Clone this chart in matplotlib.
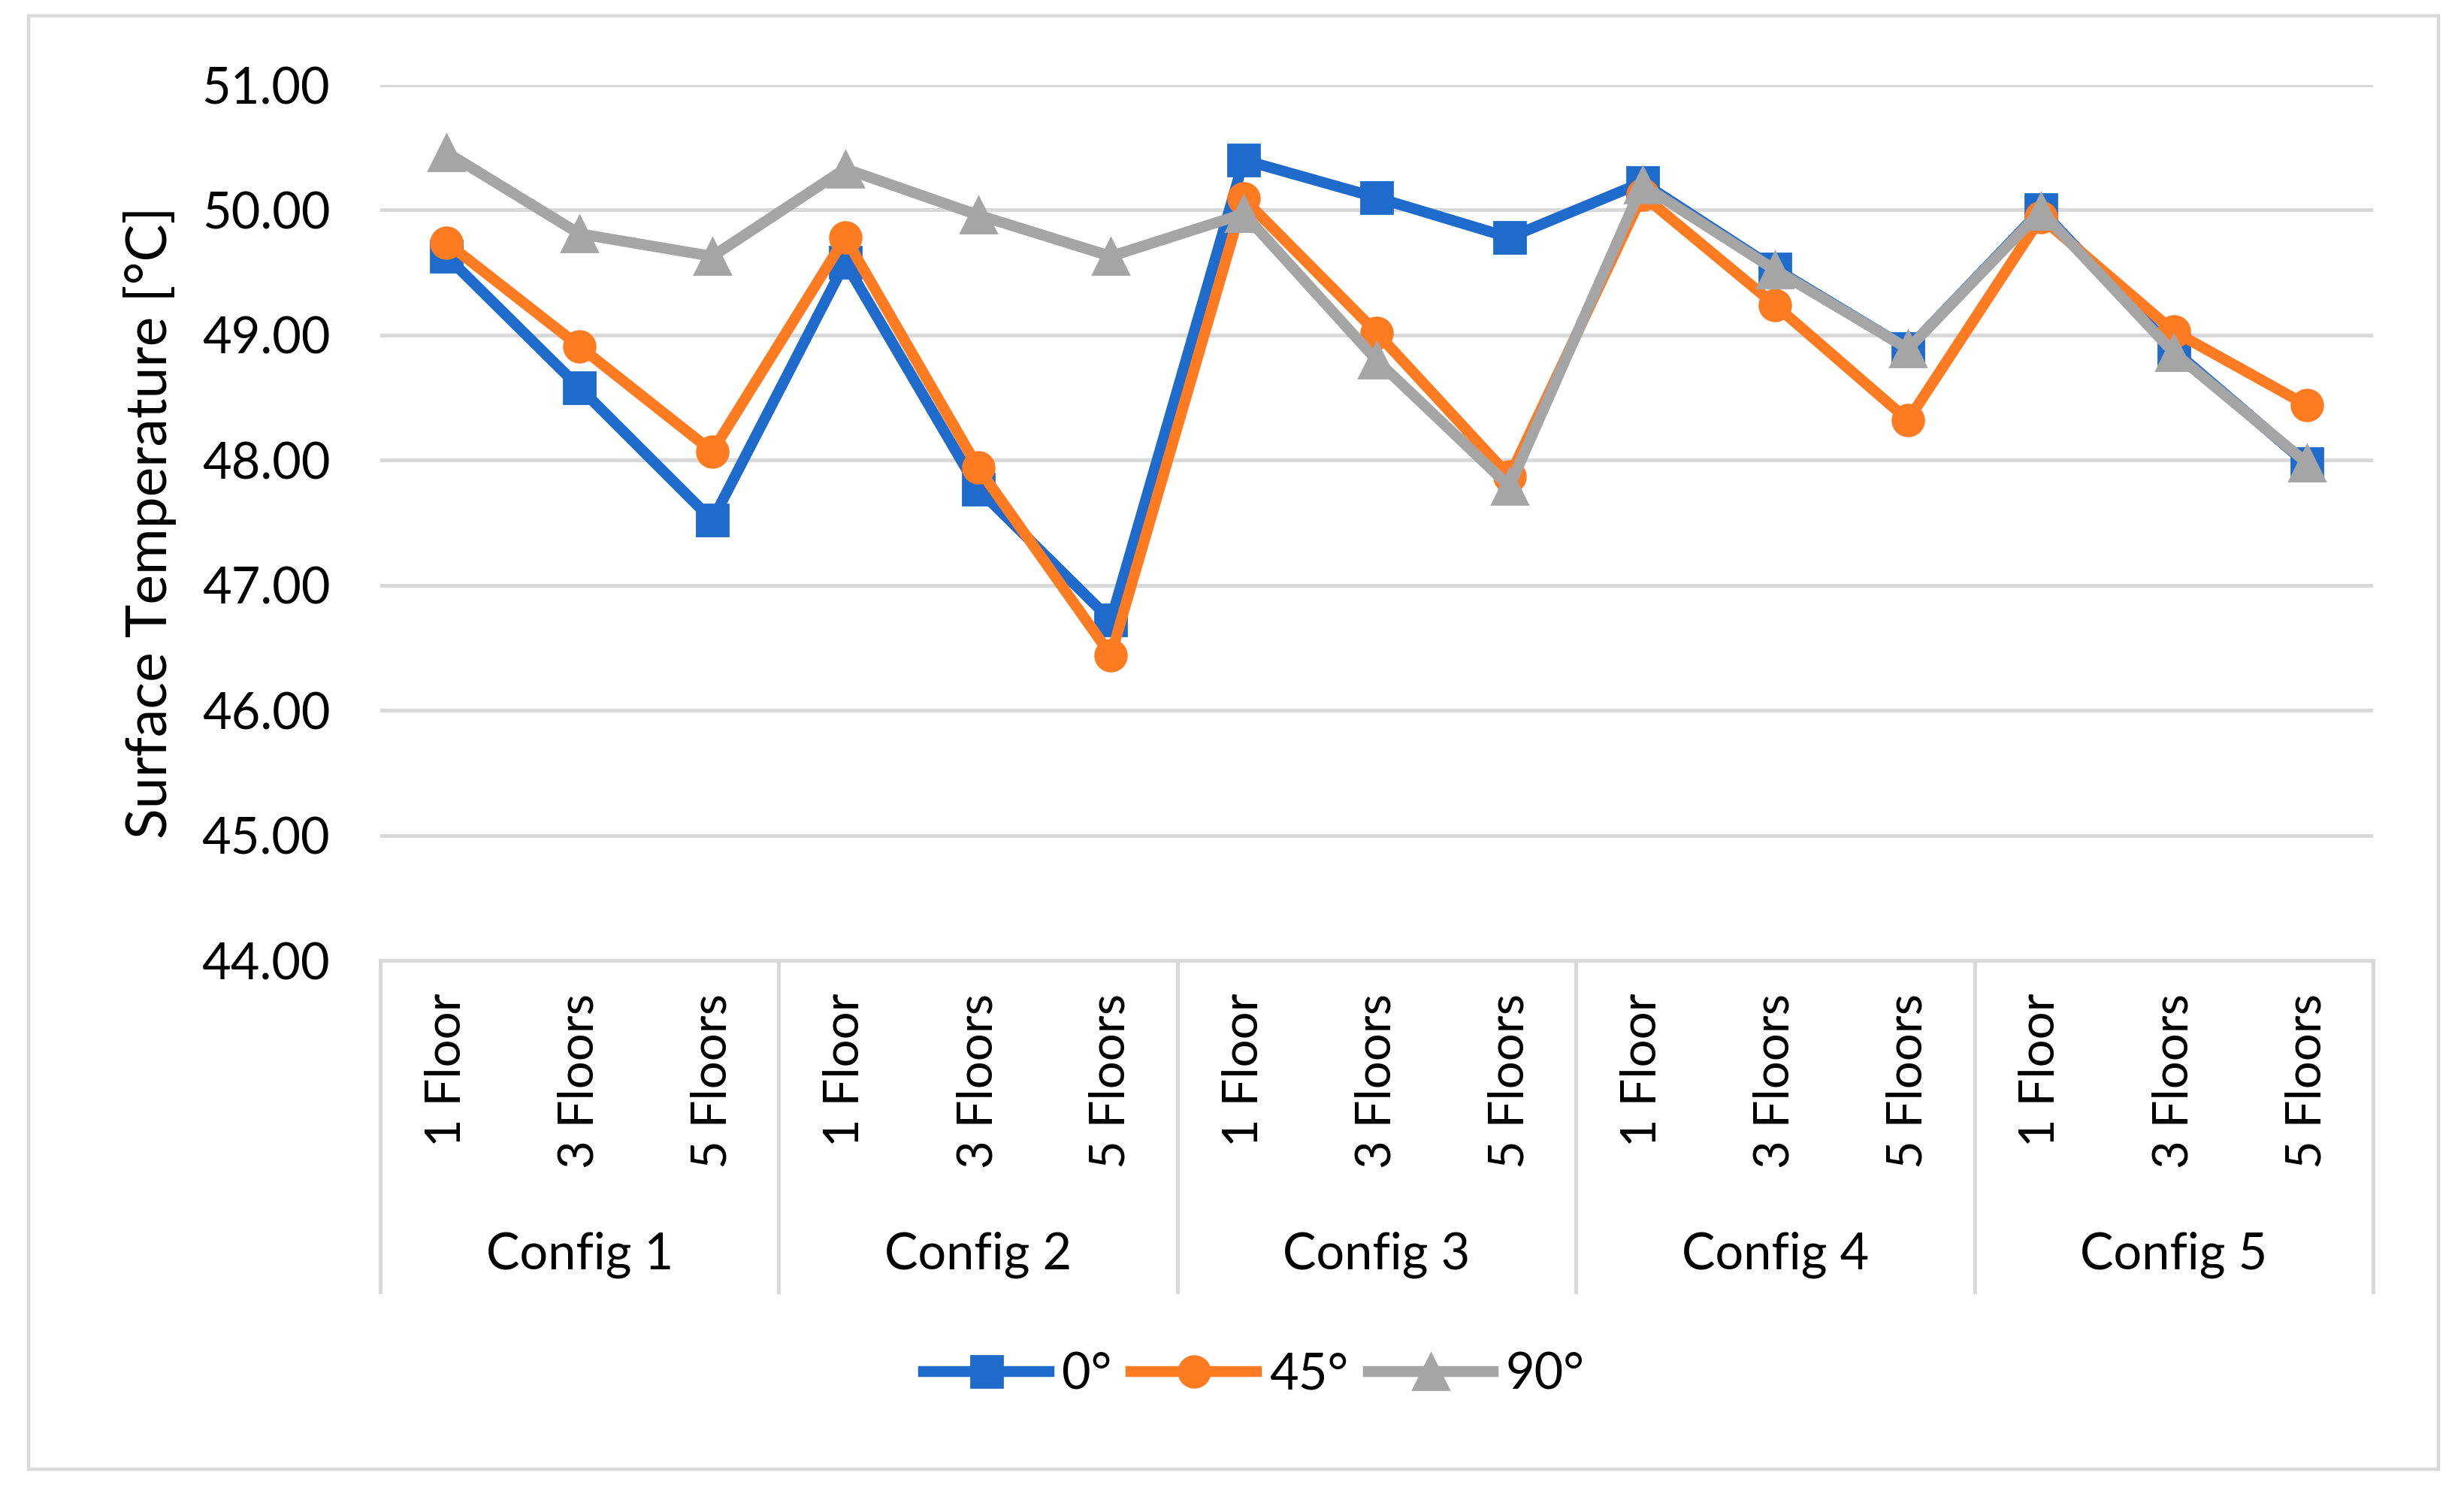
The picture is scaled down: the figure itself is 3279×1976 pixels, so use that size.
import matplotlib
matplotlib.use("Agg")
import matplotlib.pyplot as plt
from matplotlib.patches import Rectangle

plt.rcParams['font.family'] = ['Lato', 'DejaVu Sans']

# data
configs = ['Config 1', 'Config 2', 'Config 3', 'Config 4', 'Config 5']
floors = ['1 Floor', '3 Floors', '5 Floors']
series_names = ['0°', '45°', '90°']
temp_0 = [49.63, 48.58, 47.52, 49.58, 47.77, 46.72, 50.40, 50.10, 49.78,
          50.22, 49.53, 48.89, 50.00, 48.88, 47.97]
temp_45 = [49.74, 48.91, 48.07, 49.78, 47.94, 46.44, 50.09, 49.02, 47.87,
           50.12, 49.24, 48.32, 49.94, 49.03, 48.44]
temp_90 = [50.46, 49.81, 49.63, 50.33, 49.96, 49.63, 49.97, 48.80, 47.79,
           50.20, 49.52, 48.89, 49.99, 48.86, 47.98]

colors = {'0': '#1F6BCB', '45': '#FF7B22', '90': '#A5A5A5',
          'grid': '#D9D9D9', 'text': '#000000'}

fig = plt.figure(figsize=(16.395, 9.88), dpi=200)
ax = fig.add_axes([0.1543, 0.3532, 0.9631 - 0.1543, 0.9428 - 0.3532])

# outer chart border
fig.patches.append(Rectangle((0.0116, 0.0106), 0.978, 0.9788, transform=fig.transFigure,
                             fill=False, edgecolor=colors['grid'], linewidth=1.6))

x = list(range(len(configs) * len(floors)))
ax.plot(x, temp_0, color=colors['0'], lw=5.2, marker='s', ms=15, label=series_names[0])
ax.plot(x, temp_45, color=colors['45'], lw=5.2, marker='o', ms=15, label=series_names[1])
ax.plot(x, temp_90, color=colors['90'], lw=5.2, marker='^', ms=17, label=series_names[2])

ax.set_xlim(-0.5, len(x) - 0.5)
ax.set_ylim(44, 51)
ax.set_yticks(range(44, 52))
ax.set_yticklabels(['%.2f' % v for v in range(44, 52)], fontsize=24, color=colors['text'])
ax.tick_params(axis='y', length=0, pad=24)
ax.set_xticks([])
ax.grid(axis='y', color=colors['grid'], linewidth=1.8)
ax.set_axisbelow(True)
for side in ['top', 'right', 'left']:
    ax.spines[side].set_visible(False)
ax.spines['bottom'].set_color(colors['grid'])
ax.spines['bottom'].set_linewidth(1.8)

ax.set_ylabel('Surface Temperature [°C]', fontsize=27, color=colors['text'])
ax.yaxis.set_label_coords(-0.102, 0.5)

# multi-level category axis
trans = ax.get_xaxis_transform()
sep_bottom = -0.3786
for k in range(len(configs) + 1):
    xb = k * len(floors) - 0.5
    ax.plot([xb, xb], [0, sep_bottom], color=colors['grid'], lw=1.8,
            transform=trans, clip_on=False)
for i, xi in enumerate(x):
    ax.text(xi, -0.0377, floors[i % len(floors)], rotation=90, ha='center', va='top',
            fontsize=23.5, color=colors['text'], transform=trans)
for k, name in enumerate(configs):
    ax.text(k * len(floors) + 1, -0.336, name, ha='center', va='center',
            fontsize=24, color=colors['text'], transform=trans)

fig.legend(loc='center', bbox_to_anchor=(0.509, 0.074), ncol=3, frameon=False,
           fontsize=24, handlelength=2.5, handletextpad=0.25, columnspacing=0.4)

fig.savefig('out.png', dpi=200, facecolor='white')
